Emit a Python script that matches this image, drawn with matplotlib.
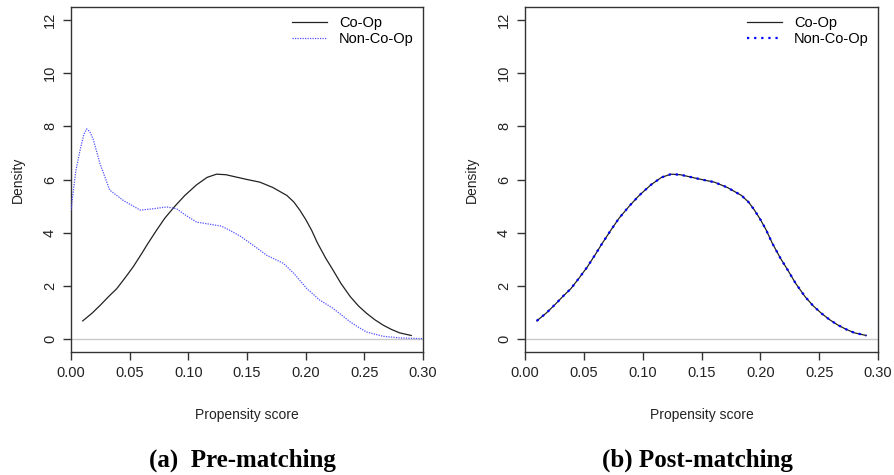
import numpy as np
import matplotlib
matplotlib.use("Agg")
import matplotlib.pyplot as plt

# Pre-matching densities
pre_coop_x = [0.010, 0.018, 0.025, 0.032, 0.039, 0.046, 0.053, 0.060, 0.0656, 0.073,
              0.080, 0.0886, 0.097, 0.107, 0.116, 0.124, 0.132, 0.140, 0.150, 0.161,
              0.172, 0.184, 0.190, 0.195, 0.200, 0.205, 0.210, 0.217, 0.223, 0.230,
              0.238, 0.245, 0.252, 0.259, 0.266, 0.273, 0.280, 0.290]
pre_coop_y = [0.69, 0.98, 1.28, 1.60, 1.90, 2.30, 2.72, 3.20, 3.60, 4.10,
              4.55, 5.00, 5.40, 5.80, 6.08, 6.20, 6.18, 6.10, 6.00, 5.90,
              5.70, 5.40, 5.15, 4.85, 4.50, 4.10, 3.62, 3.05, 2.62, 2.10,
              1.60, 1.25, 0.97, 0.73, 0.53, 0.37, 0.24, 0.14]

pre_noncoop_x = [0.000, 0.0040, 0.0077, 0.0110, 0.0134, 0.016, 0.019, 0.0247, 0.033,
                 0.045, 0.059, 0.070, 0.0815, 0.090, 0.098, 0.107, 0.121, 0.128,
                 0.135, 0.145, 0.153, 0.167, 0.181, 0.190, 0.201, 0.212, 0.223,
                 0.238, 0.245, 0.252, 0.266, 0.280, 0.300]
pre_noncoop_y = [4.85, 6.30, 7.10, 7.70, 7.90, 7.80, 7.50, 6.60, 5.60,
                 5.20, 4.85, 4.90, 4.97, 4.90, 4.65, 4.40, 4.30, 4.25,
                 4.10, 3.85, 3.60, 3.15, 2.85, 2.47, 1.90, 1.47, 1.17,
                 0.65, 0.45, 0.27, 0.11, 0.05, 0.02]

# Post-matching densities: both groups line up with the Co-Op curve
post_coop_x = pre_coop_x
post_coop_y = pre_coop_y
post_noncoop_x = pre_coop_x
post_noncoop_y = pre_coop_y

x_ticks = [0.00, 0.05, 0.10, 0.15, 0.20, 0.25, 0.30]
y_ticks = [0, 2, 4, 6, 8, 10, 12]
captions = ["(a)  Pre-matching", "(b) Post-matching"]

plt.rcParams["font.family"] = ["Liberation Sans", "DejaVu Sans"]
fig = plt.figure(figsize=(8.94, 4.75), dpi=100)

W, H = 894, 475
boxes = [(71, 7, 423, 352), (525, 7, 878, 352)]
panels = [
    (pre_coop_x, pre_coop_y, pre_noncoop_x, pre_noncoop_y, 0.9, (0, (1, 1)), "#5050ff"),
    (post_coop_x, post_coop_y, post_noncoop_x, post_noncoop_y, 1.6, (0, (1, 2.2)), "#0000ff"),
]
edge = "#333333"

for (x0, y0, x1, y1), (cx, cy, nx, ny, nlw, nls, ncol), cap in zip(boxes, panels, captions):
    ax = fig.add_axes([x0 / W, 1 - y1 / H, (x1 - x0) / W, (y1 - y0) / H])
    ax.axhline(0, color="#c8c8c8", lw=1.0, zorder=1)
    ax.plot(cx, cy, color="#222222", lw=0.9, label="Co-Op", zorder=3)
    ax.plot(nx, ny, color=ncol, lw=nlw, ls=nls, label="Non-Co-Op", zorder=4)
    ax.set_xlim(0, 0.30)
    ax.set_ylim(-0.48, 12.48)
    ax.set_xticks(x_ticks)
    ax.set_xticklabels([f"{t:.2f}" for t in x_ticks])
    ax.set_yticks(y_ticks)
    ax.set_yticklabels([str(t) for t in y_ticks], rotation=90, va="center")
    ax.tick_params(length=6, width=1.0, color=edge, labelsize=10.5,
                   labelcolor="#222222", pad=4)
    for s in ax.spines.values():
        s.set_color(edge)
        s.set_linewidth(1.0)
    ax.set_xlabel("Propensity score", fontsize=10, color="#222222", labelpad=20)
    ax.set_ylabel("Density", fontsize=10, color="#222222", labelpad=13)
    ax.legend(loc="upper right", frameon=False, fontsize=10.5, handlelength=2.4,
              labelspacing=0.1, borderaxespad=0.25, handletextpad=0.8)
    fig.text((x0 + x1) / 2 / W - 0.005, 1 - 460 / H, cap, ha="center", va="center",
             fontsize=18, fontweight="bold", family="Liberation Serif")

fig.savefig("out.png", dpi=100)
